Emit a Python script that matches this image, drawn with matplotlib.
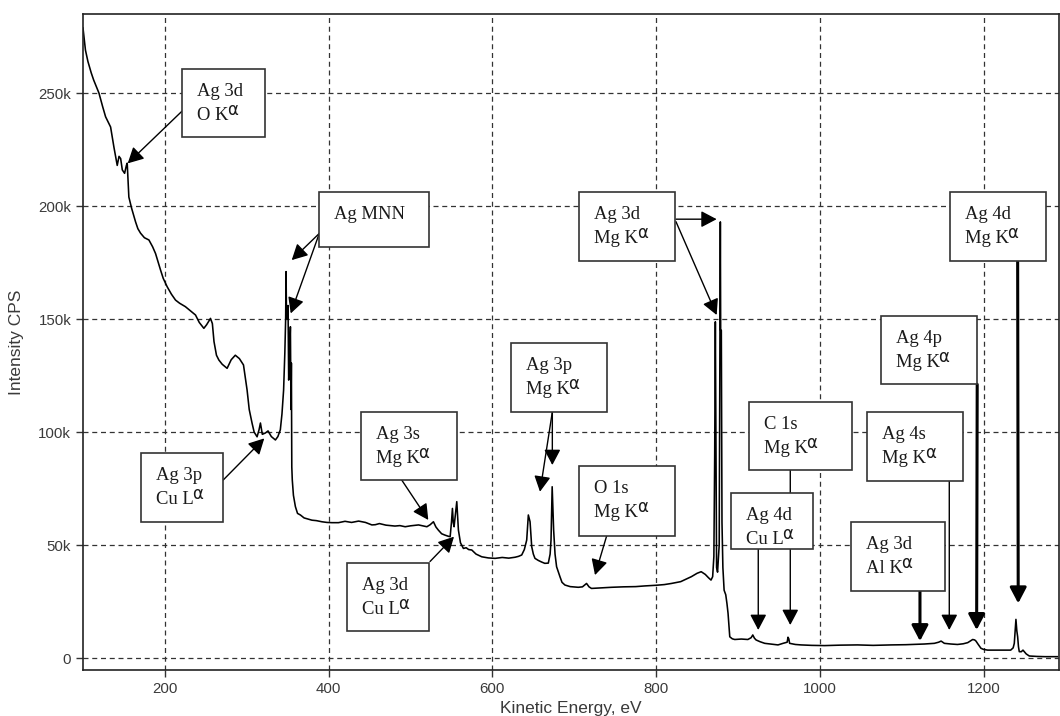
import matplotlib
matplotlib.use("Agg")
import matplotlib.pyplot as plt
from matplotlib.patches import Rectangle
from matplotlib.transforms import offset_copy

# XPS survey spectrum, kinetic energy (eV) vs intensity (thousand CPS)
energy = [100, 103, 106, 110, 113, 119.5, 124, 127.6, 133.7, 137.8, 141.8, 144, 146, 148, 150.8,
          153, 154, 156, 159.4, 164.2, 167, 170.3, 175, 180.5, 185, 188.6, 194.7, 198, 202.8,
          208, 213, 218, 225, 230, 237.4, 242, 247.6, 251, 255.7, 258, 260, 263, 265.9, 270,
          276, 281, 286, 291, 296, 300.4, 303, 306.5, 309, 312.6, 315, 316.7, 319, 322.8, 326,
          330, 335, 338, 341, 343, 345, 346.5, 347.5, 348, 348.5, 349.5, 350.4, 351.2, 352,
          353.3, 354, 354.5, 355, 355.6, 357, 359.4, 362, 365.5, 370, 375, 379.6, 385, 391.8,
          398, 404, 412, 420, 428, 436.6, 445, 452.8, 457, 462, 470, 481, 487, 493.5, 500,
          509.8, 515, 520, 524, 528, 531, 534, 538, 542, 546, 548.4, 550, 551.2, 552.2, 553.2,
          555, 556.5, 557.5, 558.5, 561, 564.6, 568, 571, 574.8, 580, 587, 595, 603.3, 612,
          620, 627.7, 632, 635.8, 639, 641.9, 643.9, 646, 648, 650, 652, 656, 660, 664, 668.3,
          670.5, 671.6, 673, 674.8, 676.5, 678.4, 682.5, 685, 688.6, 695, 704.9, 710, 715, 718,
          721, 730, 745.5, 760, 775, 786, 800, 810, 818.7, 830, 843, 850, 855, 860, 864, 867,
          869, 870.5, 871.5, 872.3, 873, 873.8, 875, 877, 878, 878.4, 878.8, 879.6, 880.4,
          881.5, 883, 885, 886.5, 887.8, 889, 889.9, 893, 896, 904, 912, 916, 918, 920, 922,
          927, 932.6, 940, 948.8, 955, 960, 961, 962, 963, 970, 977, 990, 1005.7, 1025, 1046,
          1065, 1087, 1105, 1127.6, 1139.8, 1145, 1148, 1152, 1160, 1168, 1175, 1180.5, 1184,
          1186.6, 1189, 1190.6, 1193, 1196.7, 1200, 1204.9, 1215, 1225, 1233, 1236, 1237.4,
          1238.5, 1239.4, 1240.5, 1241.5, 1242.5, 1243.5, 1246, 1248, 1249.6, 1252, 1255.7,
          1265, 1275, 1290]
intensity = [278.8, 269, 264, 259, 255.8, 250, 244, 239.5, 235, 226, 218, 222, 221, 216, 214.5,
             218, 219, 204, 199, 193, 190, 188, 186, 185, 182, 179, 171.7, 168, 164.3,
             161, 158.4, 157, 155.5, 154, 151.8, 148.5, 145.9, 147.5, 150.3, 148, 140, 134, 131.9, 130,
             128.2, 132, 134, 132.5, 129.7, 118.6, 110, 103.9, 100, 97.9, 101, 104, 99, 99.6, 100.5,
             98, 96.5, 98, 101, 108, 118.6, 135, 150, 171, 152, 150, 156, 123, 130,
             146.6, 110, 130.5, 84.6, 78.8, 72, 67, 64, 63.3, 62, 61.5, 61, 60.8, 60.3,
             60, 59.9, 59.9, 60.5, 60, 60.6, 60, 58.9, 59, 59.5, 58.8, 58.4, 58.6, 58.1, 58.5,
             58.9, 58.5, 58.1, 59, 60.3, 58, 56.6, 55, 54.4, 53.9, 53.7, 60, 66.2, 60, 58.1,
             64, 69.2, 63, 56.6, 51, 48.5, 48.8, 48, 47.8, 46, 44.8, 44.3, 44.1, 44.5,
             44.2, 44.6, 45, 45.6, 48, 52.2, 63.3, 60.3, 49.3, 46, 44.1, 43.2, 42.5, 41.9, 42,
             46, 52.2, 75.8, 56.6, 46, 40.4, 36, 33.5, 32.3, 31.6, 31.3, 31.5, 33, 31.5,
             30.8, 31, 31.3, 31.5, 31.6, 31.9, 32.2, 32.5, 33, 33.8, 36, 37.5, 38.2, 37, 35.5, 34.5,
             36, 45, 90, 148.8, 100, 40, 38, 50, 150, 193, 145, 145, 60,
             40, 30, 28, 24, 19.8, 14, 9.4, 8.5, 8.2, 8.4, 8.2, 9, 10.2, 8.8, 8,
             7.2, 6.5, 6.2, 5.8, 6.5, 7, 9.2, 8.5, 6.5, 6, 5.8, 5.6, 5.5, 5.7, 5.8,
             5.6, 5.8, 5.9, 6.2, 6.5, 7, 7.5, 6.5, 6.2, 6, 6.3, 6.8, 7.6,
             8.2, 8, 7.5, 6.2, 4.3, 3.8, 3.5, 3.5, 3.5, 3.5, 4.5, 6.5,
             12, 17.1, 12, 9.4, 5, 2.8, 2.8, 3.5, 2.8, 1.8, 0.9,
             0.7, 0.6, 0.6]

x_ticks = [200, 400, 600, 800, 1000, 1200]
y_ticks = [0, 50, 100, 150, 200, 250]
y_tick_labels = ["0", "50k", "100k", "150k", "200k", "250k"]

# (first line, second line before alpha, box left, box right, box top, box bottom)
boxes = [
    ("Ag 3d", "O K", 220.9, 321.9, 260.6, 230.5),
    ("Ag MNN", None, 388.6, 523.0, 206.2, 181.7),
    ("Ag 3p", "Cu L", 170.8, 271.3, 90.8, 60.3),
    ("Ag 3s", "Mg K", 439.2, 556.4, 109.0, 78.8),
    ("Ag 3d", "Cu L", 422.1, 523.0, 42.2, 11.9),
    ("Ag 3p", "Mg K", 622.3, 740.3, 139.3, 108.9),
    ("O 1s", "Mg K", 706.1, 823.5, 85.0, 54.1),
    ("Ag 3d", "Mg K", 706.1, 823.4, 206.2, 175.8),
    ("C 1s", "Mg K", 912.9, 1038.7, 113.4, 83.1),
    ("Ag 4d", "Cu L", 891.0, 991.1, 72.9, 48.1),
    ("Ag 3d", "Al K", 1037.9, 1153.1, 60.3, 29.8),
    ("Ag 4s", "Mg K", 1057.8, 1175.1, 109.0, 78.5),
    ("Ag 4p", "Mg K", 1074.1, 1192.1, 151.5, 121.1),
    ("Ag 4d", "Mg K", 1158.4, 1276.1, 206.2, 175.8),
]

# (start, tip, line width)
arrows = [
    ((220.9, 242.0), (154.6, 218.9), 1.0),
    ((388.6, 187.9), (354.9, 176.1), 1.0),
    ((388.6, 187.9), (353.7, 152.5), 1.0),
    ((271.3, 78.8), (321.4, 97.2), 1.0),
    ((489.2, 78.8), (521.7, 61.1), 1.0),
    ((523.8, 42.7), (553.1, 53.7), 1.0),
    ((673.2, 108.9), (673.2, 85.4), 1.0),
    ((673.2, 108.9), (658.1, 73.6), 1.0),
    ((739.6, 54.1), (725.3, 36.7), 1.0),
    ((824.2, 194.2), (873.9, 194.2), 1.0),
    ((824.2, 193.1), (873.9, 151.8), 1.0),
    ((963.8, 83.1), (963.8, 14.6), 1.0),
    ((924.7, 48.1), (924.7, 12.4), 1.0),
    ((1122.2, 29.8), (1122.2, 7.5), 2.2),
    ((1158.0, 78.5), (1158.0, 12.4), 1.0),
    ((1192.1, 121.1), (1191.4, 12.4), 2.2),
    ((1241.5, 175.8), (1242.2, 24.2), 2.2),
]

fig = plt.figure(figsize=(10.6, 7.16), dpi=100)
ax = fig.add_axes([83 / 1060, 46 / 716, 976 / 1060, 656 / 716])

ax.plot(energy, intensity, color="black", lw=1.15, zorder=2)

ax.set_xlim(100, 1292)
ax.set_ylim(-5.3, 285)
ax.set_xticks(x_ticks)
ax.set_yticks(y_ticks)
ax.set_yticklabels(y_tick_labels)
ax.grid(True, color="#333333", linestyle=(0, (4, 3)), lw=0.9, zorder=1)
ax.set_axisbelow(True)
for s in ax.spines.values():
    s.set_linewidth(1.2)
    s.set_color("#222222")
ax.tick_params(axis="both", direction="out", length=5, width=1, color="#333333",
               labelsize=10.8, labelcolor="#3a3a3a")
for lab in ax.get_xticklabels() + ax.get_yticklabels():
    lab.set_family("Liberation Sans")

ax.set_xlabel("Kinetic Energy, eV", family="Liberation Sans", fontsize=12.5,
              color="#3a3a3a", labelpad=4)
ax.set_ylabel("Intensity CPS", family="Liberation Sans", fontsize=12.5,
              color="#3a3a3a", labelpad=10)

for start, tip, w in arrows:
    ax.annotate("", xy=tip, xytext=start, zorder=3,
                arrowprops=dict(arrowstyle="-|>,head_length=0.95,head_width=0.5",
                                mutation_scale=10, color="black", lw=w,
                                shrinkA=0, shrinkB=0))

renderer = fig.canvas.get_renderer()
for line1, line2, x0, x1, ytop, ybot in boxes:
    ax.add_patch(Rectangle((x0, ybot), x1 - x0, ytop - ybot, facecolor="white",
                           edgecolor="#333333", lw=1.2, zorder=4))
    tr = offset_copy(ax.transData, fig=fig, x=15, y=-27, units="dots")
    ax.text(x0, ytop, line1, transform=tr, family="Liberation Serif", fontsize=13.4,
            va="baseline", ha="left", color="#1a1a1a", zorder=5)
    if line2:
        tr = offset_copy(ax.transData, fig=fig, x=15, y=-51, units="dots")
        t = ax.text(x0, ytop, line2, transform=tr, family="Liberation Serif", fontsize=13.4,
                    va="baseline", ha="left", color="#1a1a1a", zorder=5)
        w_px = t.get_window_extent(renderer).width
        tr = offset_copy(ax.transData, fig=fig, x=15 + w_px - 1.5, y=-46, units="dots")
        ax.text(x0, ytop, "\u03b1", transform=tr, family="DejaVu Sans", fontsize=12,
                va="baseline", ha="left", color="#1a1a1a", zorder=5)

fig.savefig("out.png", dpi=100)
